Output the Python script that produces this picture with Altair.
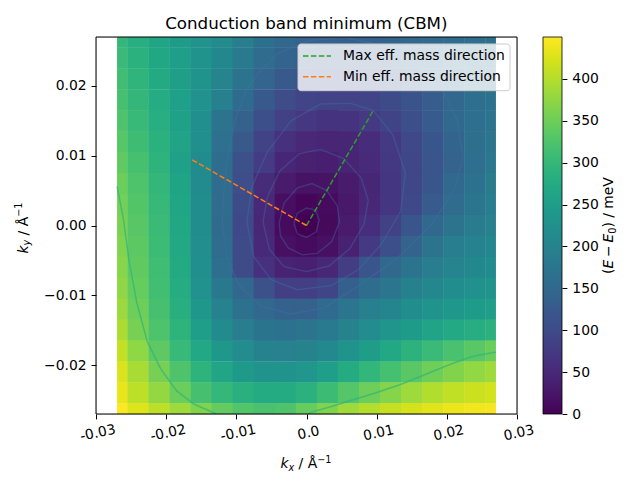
import altair as alt
import pandas as pd

# ---------------- data ----------------
KX = [-0.027, -0.024, -0.021, -0.018, -0.015, -0.012, -0.009, -0.006, -0.003, 0.0,
      0.003, 0.006, 0.009, 0.012, 0.015, 0.018, 0.021, 0.024, 0.027]
KY = [0.027, 0.024, 0.021, 0.018, 0.015, 0.012, 0.009, 0.006, 0.003, 0.0,
      -0.003, -0.006, -0.009, -0.012, -0.015, -0.018, -0.021, -0.024, -0.027]

# E - E0 in meV, one row per KY value (top to bottom), one column per KX value
ENERGY = [
    [300, 282, 265, 248, 232, 213, 190, 165, 148, 140, 136, 135, 137, 142, 148, 154, 158, 162, 165],
    [305, 287, 269, 251, 231, 209, 183, 158, 142, 132, 126, 125, 129, 137, 147, 155, 160, 163, 165],
    [312, 293, 273, 254, 230, 202, 172, 144, 124, 112, 106, 105, 109, 118, 132, 148, 158, 163, 166],
    [318, 298, 277, 255, 228, 193, 156, 124, 102, 91, 87, 87, 91, 100, 114, 131, 148, 161, 168],
    [325, 304, 282, 256, 222, 172, 138, 106, 85, 71, 65, 65, 73, 89, 107, 127, 150, 162, 170],
    [332, 310, 287, 260, 222, 166, 124, 87, 61, 49, 45, 46, 56, 75, 98, 120, 143, 163, 175],
    [340, 318, 292, 256, 215, 160, 108, 77, 47, 39, 37, 43, 54, 72, 95, 117, 140, 162, 178],
    [349, 325, 298, 262, 215, 158, 105, 55, 32, 21, 21, 31, 47, 70, 95, 120, 150, 168, 185],
    [355, 329, 302, 267, 218, 158, 100, 50, 15, 6, 12, 28, 48, 70, 96, 128, 158, 175, 190],
    [360, 333, 305, 268, 218, 155, 98, 48, 12, 0, 10, 32, 58, 85, 118, 150, 172, 185, 195],
    [364, 336, 308, 270, 220, 158, 100, 50, 18, 12, 18, 40, 75, 106, 140, 170, 188, 198, 205],
    [369, 340, 311, 273, 222, 162, 100, 62, 42, 38, 48, 80, 118, 150, 172, 190, 202, 210, 215],
    [375, 344, 314, 278, 228, 180, 148, 108, 82, 82, 92, 135, 160, 175, 193, 208, 218, 225, 230],
    [383, 350, 318, 284, 238, 198, 168, 148, 136, 136, 153, 175, 192, 203, 218, 231, 240, 246, 252],
    [395, 358, 324, 292, 252, 215, 190, 173, 168, 170, 184, 200, 217, 233, 248, 261, 271, 279, 288],
    [410, 374, 338, 304, 270, 240, 216, 200, 196, 200, 212, 230, 250, 270, 289, 305, 320, 334, 347],
    [425, 392, 358, 325, 292, 264, 244, 232, 230, 236, 252, 275, 297, 317, 335, 352, 366, 377, 385],
    [435, 405, 378, 349, 318, 300, 285, 275, 275, 288, 308, 330, 350, 368, 385, 398, 408, 415, 420],
    [450, 428, 405, 385, 365, 343, 328, 320, 325, 345, 366, 385, 400, 412, 422, 430, 437, 442, 445],
]

CBAR_TICKS = [0, 50, 100, 150, 200, 250, 300, 350, 400]
E_RANGE = [0, 450]
X_TICKS = [-0.03, -0.02, -0.01, 0.0, 0.01, 0.02, 0.03]
Y_TICKS = [-0.02, -0.01, 0.0, 0.01, 0.02]
X_RANGE = [-0.03, 0.03]
Y_RANGE = [-0.027, 0.027]

TITLE = "Conduction band minimum (CBM)"
DIR_NAMES = ["Max eff. mass direction", "Min eff. mass direction"]
DIR_COLORS = ["#2ca02c", "#ff7f0e"]
DIR_KX = [[0.0, 0.0095], [0.0, -0.01645]]
DIR_KY = [[0.0, 0.01645], [0.0, 0.0095]]

# contour lines (points in 1e-3 1/Angstrom)
RING1 = [(-1.8, 0.3), (-1.3, 1.8), (0.0, 2.5), (1.3, 2.2), (1.8, 0.8), (1.4, -0.9), (0.0, -1.7),
         (-1.3, -1.2), (-1.8, 0.3)]
RING2 = [(-3.9, 0.3), (-3.2, 3.2), (-1.3, 5.4), (0.8, 6.0), (2.9, 5.0), (4.4, 2.8), (4.7, 0.5),
         (3.6, -2.3), (1.5, -4.0), (-0.6, -4.2), (-2.6, -3.2), (-3.7, -1.5), (-3.9, 0.3)]
RING3 = [(-6.2, 0.5), (-5.6, 4.0), (-3.8, 7.8), (-1.0, 10.3), (2.0, 10.9), (5.3, 9.6), (7.8, 6.8),
         (8.8, 3.6), (8.2, 0.2), (6.2, -3.3), (3.2, -5.8), (0.0, -6.6), (-3.2, -5.9), (-5.3, -3.4),
         (-6.2, 0.5)]
RING4 = [(-8.5, 0.5), (-7.8, 5.5), (-5.6, 10.5), (-2.2, 15.0), (2.0, 17.4), (6.2, 17.5), (9.5, 16.5),
         (12.3, 13.0), (14.1, 7.5), (13.4, 2.0), (10.6, -2.8), (7.3, -6.4), (3.5, -8.6), (-1.3, -9.2),
         (-5.0, -7.8), (-7.5, -4.5), (-8.5, 0.5)]
RING5 = [(-12.0, 0.0), (-11.8, 5.0), (-11.2, 10.0), (-10.2, 15.0), (-8.8, 19.0), (-7.0, 21.7),
         (-4.0, 24.7), (0.0, 26.4), (5.0, 27.0), (10.0, 26.0), (14.5, 24.0), (19.5, 19.1), (21.5, 15.0),
         (22.3, 9.5), (21.0, 5.0), (17.7, 0.0), (12.8, -4.8), (7.6, -8.5), (2.5, -11.8), (-2.3, -12.7),
         (-6.5, -11.5), (-9.5, -8.7), (-11.3, -4.8), (-12.0, 0.0)]
CURVE_LEFT = [(-27.0, 5.6), (-26.1, 1.0), (-25.3, -5.0), (-24.2, -11.0), (-22.7, -16.6), (-20.8, -20.5),
              (-18.5, -23.7), (-16.0, -25.6), (-13.7, -26.6), (-12.8, -27.0)]
CURVE_RIGHT = [(0.3, -27.0), (0.5, -26.8), (3.3, -26.0), (6.2, -25.1), (9.8, -24.0), (13.3, -22.8),
               (17.0, -21.3), (20.4, -19.9), (23.5, -18.8), (26.6, -18.2), (27.0, -18.15)]
INNER_RINGS = [RING1, RING2, RING3, RING4, RING5]
OUTER_CURVES = [CURVE_LEFT, CURVE_RIGHT]

# ---------------- tables ----------------
EPS = 0.00003  # tiny overlap between neighbouring cells to hide anti-aliasing seams


def cell_edges(c):
    asc = c[0] < c[-1]
    lo = [c[0]] + [(c[i - 1] + c[i]) / 2 for i in range(1, len(c))]
    hi = [(c[i] + c[i + 1]) / 2 for i in range(len(c) - 1)] + [c[-1]]
    s = 1 if asc else -1
    lo = [lo[0]] + [v - s * EPS for v in lo[1:]]
    hi = [v + s * EPS for v in hi[:-1]] + [hi[-1]]
    return lo, hi


xlo, xhi = cell_edges(KX)
ylo, yhi = cell_edges(KY)
heat_rows = []
for i, row in enumerate(ENERGY):
    for j, e in enumerate(row):
        heat_rows.append({"x0": xlo[j], "x1": xhi[j], "y0": ylo[i], "y1": yhi[i], "E": e})
heat_df = pd.DataFrame(heat_rows)


def contour_table(curves):
    rows = []
    for ci, pts in enumerate(curves):
        for pi, (px, py) in enumerate(pts):
            rows.append({"kx": px * 1e-3, "ky": py * 1e-3, "c": ci, "o": pi})
    return pd.DataFrame(rows)


inner_df = contour_table(INNER_RINGS)
outer_df = contour_table(OUTER_CURVES)

dir_rows = []
for name, xs_, ys_ in zip(DIR_NAMES, DIR_KX, DIR_KY):
    for o, (px, py) in enumerate(zip(xs_, ys_)):
        dir_rows.append({"kx": px, "ky": py, "name": name, "o": o})
dir_df = pd.DataFrame(dir_rows)

one = pd.DataFrame({"a": [0]})
cbar_df = pd.DataFrame({"v": E_RANGE})

# ---------------- styling ----------------
FONT = "DejaVu Sans"
FS = 13.9
FS_SMALL = 9.7

x_axis = alt.Axis(values=X_TICKS, title=None, grid=False, domain=False,
                  labelExpr="datum.value == 0 ? '0.0' : (datum.value < 0 ? '-' : '') + format(abs(datum.value), '.2f')",
                  labelAngle=348, labelAlign="center", labelBaseline="top", labelPadding=7,
                  labelFlush=False, labelOverlap=False, labelBound=False,
                  tickSize=4.9, tickWidth=1, tickColor="black",
                  labelFont=FONT, labelFontSize=FS, labelColor="black")
y_axis = alt.Axis(values=Y_TICKS, title=None, grid=False, domain=False, format=".2f",
                  labelPadding=4.9, labelFlush=False, labelOverlap=False,
                  tickSize=4.9, tickWidth=1, tickColor="black",
                  labelFont=FONT, labelFontSize=FS, labelColor="black")
xs = alt.Scale(domain=X_RANGE, nice=False, zero=False)
ys = alt.Scale(domain=Y_RANGE, nice=False, zero=False)

heat = alt.Chart(heat_df).mark_rect().encode(
    x=alt.X("x0:Q", scale=xs, axis=x_axis),
    x2="x1:Q",
    y=alt.Y("y0:Q", scale=ys, axis=y_axis),
    y2="y1:Q",
    fill=alt.Fill("E:Q", scale=alt.Scale(scheme="viridis", domain=E_RANGE),
                  legend=alt.Legend(title=None, orient="none", legendX=447, legendY=0,
                                    direction="vertical", gradientLength=377, gradientThickness=19,
                                    values=CBAR_TICKS, labelOpacity=0, labelFontSize=1,
                                    gradientStrokeColor="black", gradientStrokeWidth=0.8,
                                    padding=0)),
)

inner = alt.Chart(inner_df).mark_line(color="#4470a4", opacity=0.38, strokeWidth=1.4, clip=True).encode(
    x=alt.X("kx:Q", scale=xs, axis=x_axis),
    y=alt.Y("ky:Q", scale=ys, axis=y_axis),
    detail="c:N",
    order="o:Q",
)

outer = alt.Chart(outer_df).mark_line(color="#2fb47c", opacity=0.7, strokeWidth=1.5, clip=True).encode(
    x=alt.X("kx:Q", scale=xs, axis=x_axis),
    y=alt.Y("ky:Q", scale=ys, axis=y_axis),
    detail="c:N",
    order="o:Q",
)

dirs = alt.Chart(dir_df).mark_line(strokeWidth=1.5, strokeDash=[5.5, 2.4]).encode(
    x=alt.X("kx:Q", scale=xs, axis=x_axis),
    y=alt.Y("ky:Q", scale=ys, axis=y_axis),
    color=alt.Color("name:N", scale=alt.Scale(domain=DIR_NAMES, range=DIR_COLORS), legend=None),
    order="o:Q",
)

frame = alt.Chart(one).mark_rect(filled=False, stroke="black", strokeWidth=1).encode(
    x=alt.datum(X_RANGE[0]), x2=alt.datum(X_RANGE[1]),
    y=alt.datum(Y_RANGE[0]), y2=alt.datum(Y_RANGE[1]),
)

main = alt.layer(heat, inner, outer, dirs, frame)

# colour-bar ticks and labels: an invisible layer with its own y scale, axis on the right
cbar_axis = alt.Chart(cbar_df).mark_point(opacity=0).encode(
    y=alt.Y("v:Q", scale=alt.Scale(domain=E_RANGE, nice=False, zero=False),
            axis=alt.Axis(orient="right", offset=45, values=CBAR_TICKS, format="d", title=None,
                          grid=False, domain=False, tickSize=4.9, tickWidth=1, tickColor="black",
                          labelPadding=4.9, labelFlush=False, labelOverlap=False,
                          labelFont=FONT, labelFontSize=FS, labelColor="black")),
)


def txt(s, x, y, size=FS, italic=False, angle=0, align="left", baseline="alphabetic", color="black"):
    kw = dict(text=s, font=FONT, fontSize=size, align=align, baseline=baseline, color=color)
    if italic:
        kw["fontStyle"] = "italic"
    if angle:
        kw["angle"] = angle
    return alt.Chart(one).mark_text(**kw).encode(x=alt.value(x), y=alt.value(y))


# legend for the two direction lines
legend_box = alt.Chart(one).mark_rect(fill="white", fillOpacity=0.8, stroke="#cccccc", strokeWidth=1,
                                      cornerRadius=3).encode(
    x=alt.value(202), x2=alt.value(414), y=alt.value(7), y2=alt.value(53.7))
legend_parts = [legend_box]
for k, (name, col) in enumerate(zip(DIR_NAMES, DIR_COLORS)):
    yy = 19 + k * 20.7
    legend_parts.append(
        alt.Chart(one).mark_rule(color=col, strokeWidth=1.5, strokeDash=[5.5, 2.4]).encode(
            x=alt.value(207), x2=alt.value(235), y=alt.value(yy)))
    legend_parts.append(txt(name, 247, yy, baseline="middle"))

CB_X = 517
texts = [
    txt(TITLE, 210.3, -8.5, size=16.7, align="center"),
    # x label: k_x / Å^-1
    txt("k", 184.5, 431, italic=True),
    txt("x", 192.6, 433.5, size=FS_SMALL, italic=True),
    txt("/ Å", 202.6, 431),
    txt("\u22121", 221.2, 425.5, size=FS_SMALL),
    # y label: k_y / Å^-1 (rotated)
    txt("k", -68.5, 216.5, italic=True, angle=270),
    txt("y", -66.0, 208.5, size=FS_SMALL, italic=True, angle=270),
    txt("/ Å", -68.5, 198.4, angle=270),
    txt("\u22121", -74.0, 179.8, size=FS_SMALL, angle=270),
    # colorbar label: (E - E0) / meV
    txt("(", CB_X, 237, angle=270),
    txt("E", CB_X, 231.6, italic=True, angle=270),
    txt("\u2212", CB_X, 220, angle=270),
    txt("E", CB_X, 205.6, italic=True, angle=270),
    txt("0", CB_X + 2.5, 196.8, size=FS_SMALL, angle=270),
    txt(")", CB_X, 190.6, angle=270),
    txt("/ meV", CB_X, 180.8, angle=270),
]

chart = alt.layer(main, cbar_axis, *legend_parts, *texts).resolve_scale(y="independent").properties(
    width=421,
    height=377,
    autosize=alt.AutoSizeParams(type="none"),
    padding={"left": 88, "top": 29, "right": 115, "bottom": 58},
).configure_view(stroke=None).configure_legend(
    gradientVerticalMaxLength=500
).configure(background="white", font=FONT)

chart.save("out.html", embed_options={"renderer": "svg", "actions": False})
